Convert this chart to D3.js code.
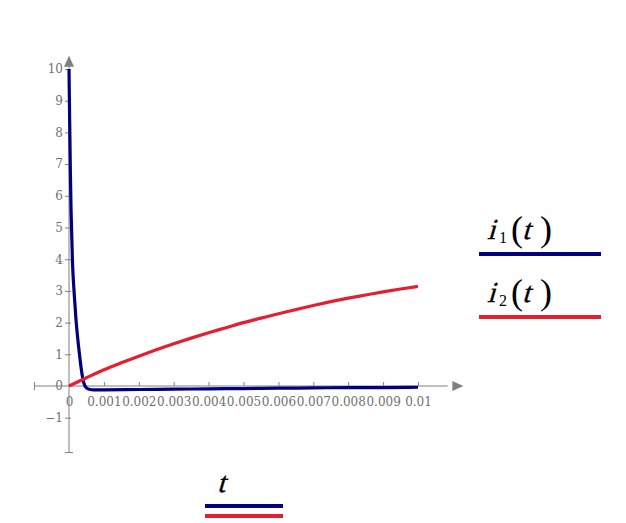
<!DOCTYPE html>
<html lang="en">
  <head>
    <meta charset="UTF-8" />
    <title>i1 i2</title>
    <style>
      body { margin: 0; background: #fff; }
    </style>
  </head>
  <body>
    <div id="wrapper"></div>
    <script src="https://d3js.org/d3.v7.min.js"></script>
    <script>
      // values
      const t1 = [0, 0.00002, 0.00004, 0.00006, 0.0001, 0.00015, 0.0002, 0.00025, 0.0003, 0.00035, 0.0004, 0.00045, 0.0005, 0.0006, 0.0007, 0.001, 0.002, 0.003, 0.004, 0.005, 0.006, 0.007, 0.008, 0.009, 0.01];
      const i1 = [10, 8.3, 6.7, 5.5, 3.9, 2.9, 2.1, 1.5, 1.0, 0.55, 0.2, 0.02, -0.06, -0.11, -0.12, -0.12, -0.11, -0.1, -0.09, -0.08, -0.07, -0.06, -0.05, -0.05, -0.04];
      const t2 = [0, 0.0005, 0.001, 0.0015, 0.002, 0.0025, 0.003, 0.0035, 0.004, 0.0045, 0.005, 0.0055, 0.006, 0.0065, 0.007, 0.0075, 0.008, 0.0085, 0.009, 0.0095, 0.01];
      const i2 = [0, 0.26, 0.51, 0.73, 0.94, 1.14, 1.33, 1.51, 1.68, 1.84, 2.0, 2.14, 2.28, 2.41, 2.54, 2.66, 2.77, 2.87, 2.97, 3.06, 3.14];
      const xTicks = [0, 0.001, 0.002, 0.003, 0.004, 0.005, 0.006, 0.007, 0.008, 0.009, 0.01];
      const yTicks = [-1, 0, 1, 2, 3, 4, 5, 6, 7, 8, 9, 10];

      const width = 626, height = 523;
      const blue = "#000080", red = "#e3202f", axisCol = "#808080";
      const tickFont = "'DejaVu Serif', serif";
      const mathFont = "'Liberation Serif', serif";

      const svg = d3.select("#wrapper").append("svg")
          .attr("width", width)
          .attr("height", height);

      const x = d3.scaleLinear().domain([0, 0.01]).range([69, 418]);
      const y = d3.scaleLinear().domain([0, 10]).range([386, 69]);

      // x axis
      const gx = svg.append("g")
          .attr("transform", "translate(0," + y(0) + ")")
          .call(d3.axisBottom(x).tickValues(xTicks).tickSize(-4).tickPadding(11)
            .tickFormat(d => d === 0 ? "0" : String(+d.toFixed(3))));
      gx.select(".domain").remove();
      gx.selectAll(".tick line").attr("stroke", axisCol);
      gx.selectAll(".tick").filter(d => d === 0).select("line").remove();

      // y axis
      const gy = svg.append("g")
          .attr("transform", "translate(" + x(0) + ",0)")
          .call(d3.axisLeft(y).tickValues(yTicks).tickSize(4).tickPadding(2)
            .tickFormat(d => d < 0 ? "\u2212" + (-d) : d));
      gy.select(".domain").remove();
      gy.selectAll(".tick line").attr("stroke", axisCol).attr("x2", -4).attr("x1", 2);
      gy.selectAll(".tick").filter(d => d === 0).select("line").remove();

      [gx, gy].forEach(g => {
        g.attr("font-family", null).attr("font-size", null);
        g.selectAll("text")
            .style("font-family", tickFont)
            .style("font-size", "12px")
            .style("fill", "#707070");
      });

      // axis lines with arrows
      svg.append("line").attr("x1", x(-0.00099)).attr("x2", x(0.01085))
          .attr("y1", y(0)).attr("y2", y(0)).attr("stroke", axisCol);
      svg.append("line").attr("x1", x(-0.00099)).attr("x2", x(-0.00099))
          .attr("y1", y(0) - 4).attr("y2", y(0) + 4).attr("stroke", axisCol);
      svg.append("path").attr("fill", axisCol)
          .attr("d", "M" + x(0.0113) + "," + y(0) + "l-11,-5l0,10z");
      svg.append("line").attr("x1", x(0)).attr("x2", x(0))
          .attr("y1", y(-2.1)).attr("y2", y(10.2)).attr("stroke", axisCol);
      svg.append("line").attr("x1", x(0) - 4).attr("x2", x(0) + 4)
          .attr("y1", y(-2.1)).attr("y2", y(-2.1)).attr("stroke", axisCol);
      svg.append("path").attr("fill", axisCol)
          .attr("d", "M" + x(0) + "," + y(10.42) + "l-5,11l10,0z");

      // curves
      const line = d3.line()
          .x(d => x(d[0]))
          .y(d => y(d[1]))
          .curve(d3.curveMonotoneX);

      svg.append("path")
          .datum(t1.map((t, k) => [t, i1[k]]))
          .attr("fill", "none").attr("stroke", blue).attr("stroke-width", 3.2)
          .attr("d", line);

      svg.append("path")
          .datum(t2.map((t, k) => [t, i2[k]]))
          .attr("fill", "none").attr("stroke", red).attr("stroke-width", 3.2)
          .attr("d", line);

      // math text: slanted serif letters, upright digits and brackets
      function italic(g, xp, yp, s) {
        g.append("text")
            .attr("transform", "translate(" + xp + "," + yp + ") skewX(-16)")
            .style("font-family", mathFont).style("font-size", "29px")
            .attr("stroke", "#000").attr("stroke-width", 0.35)
            .text(s);
      }
      function upright(g, xp, yp, s, size) {
        g.append("text").attr("x", xp).attr("y", yp)
            .style("font-family", mathFont).style("font-size", size + "px")
            .text(s);
      }
      function mathLabel(g, x0, base, sub) {
        italic(g, x0, base, "i");
        upright(g, x0 + 12, base + 4, sub, 16);
        upright(g, x0 + 24, base + 2, "(", 36);
        italic(g, x0 + 35, base, "t");
        upright(g, x0 + 53, base + 2, ")", 36);
      }
      const legend = [{ sub: "1", col: blue, ty: 239, ly: 254 }, { sub: "2", col: red, ty: 302, ly: 317 }];
      legend.forEach(d => {
        mathLabel(svg, 487, d.ty, d.sub);
        svg.append("line").attr("x1", 479).attr("x2", 601)
            .attr("y1", d.ly).attr("y2", d.ly)
            .attr("stroke", d.col).attr("stroke-width", 4);
      });

      // x variable label
      italic(svg, 217, 492, "t");
      svg.append("line").attr("x1", 205).attr("x2", 283).attr("y1", 506).attr("y2", 506)
          .attr("stroke", blue).attr("stroke-width", 4);
      svg.append("line").attr("x1", 205).attr("x2", 283).attr("y1", 516).attr("y2", 516)
          .attr("stroke", red).attr("stroke-width", 4);
    </script>
  </body>
</html>
